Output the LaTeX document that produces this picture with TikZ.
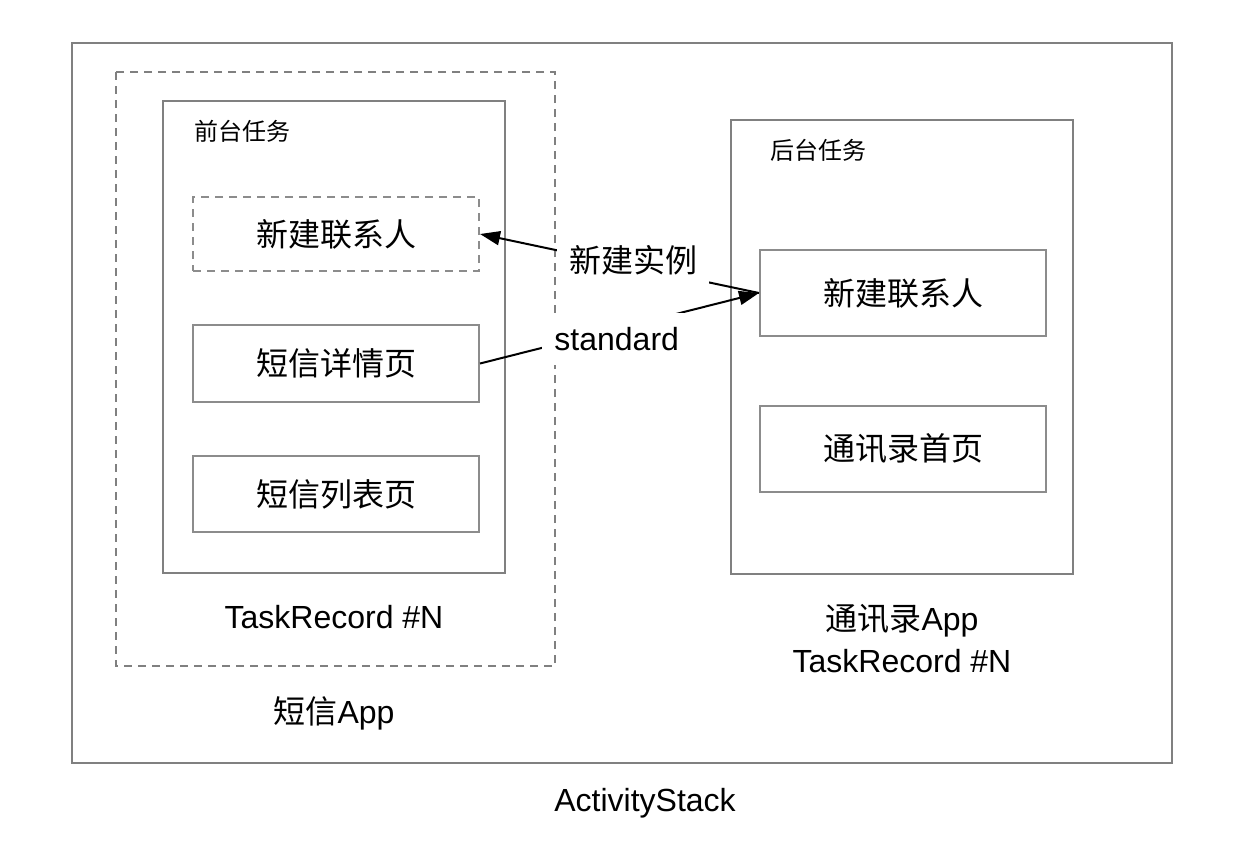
\documentclass[tikz,border=0pt]{standalone}
\usepackage{fontspec}
\setmainfont{Liberation Sans}
\newfontfamily\cjk{Noto Sans CJK SC}
\usetikzlibrary{arrows.meta}
\definecolor{boxgray}{HTML}{808080}
\definecolor{innergray}{HTML}{8C8C8C}
\begin{document}
\begin{tikzpicture}[x=0.5pt,y=-0.5pt,
  frame/.style={draw=boxgray,line width=1pt},
  dframe/.style={draw=boxgray,line width=1pt,dash pattern=on 4pt off 3pt},
  actbox/.style={draw=innergray,line width=1pt,minimum width=143pt,anchor=north west,inner sep=0pt,font=\cjk\fontsize{16pt}{19pt}\selectfont},
  dactbox/.style={actbox,dash pattern=on 4pt off 3pt},
  big/.style={font=\fontsize{16pt}{21pt}\selectfont,inner sep=0pt,align=center},
  small/.style={font=\cjk\fontsize{12pt}{14pt}\selectfont,inner sep=0pt},
  edgelabel/.style={fill=white,inner xsep=6pt,inner ysep=7pt,font=\fontsize{16pt}{19pt}\selectfont},
  conn/.style={draw=black,line width=1pt,-{Triangle[length=10pt,width=7pt]}}
]
\useasboundingbox (0,0) rectangle (1248,858);
\fill[white] (0,0) rectangle (1248,858);
% outer frames
\draw[frame] (72,43) rectangle (1172,763);
\draw[dframe] (116,72) rectangle (555,666);
\draw[frame] (163,101) rectangle (505,573);
\draw[frame] (731,120) rectangle (1073,574);
% small labels
\node[small] (fg) at (242,131) {前台任务};
\node[small] (bg) at (818,150) {后台任务};
% left activities
\node[dactbox,minimum height=37pt] (lnew) at (192,196) {新建联系人};
\node[actbox,minimum height=38.5pt] (detail) at (192,324) {短信详情页};
\node[actbox,minimum height=38pt] (list) at (192,455) {短信列表页};
% right activities
\node[actbox,minimum height=43pt] (rnew) at (759,249) {新建联系人};
\node[actbox,minimum height=43pt] (home) at (759,405) {通讯录首页};
% texts
\node[big] (trl) at (334,617) {TaskRecord \#N};
\node[big] (smsapp) at (334,713) {{\cjk 短信}App};
\node[big] (trr) at (902,639) {{\cjk 通讯录}App\\TaskRecord \#N};
\node[big] (stack) at (645,803) {ActivityStack};
% connectors
\draw[conn] (rnew.west) -- node[edgelabel,pos=0.45,yshift=3pt] {\cjk 新建实例} (lnew.east);
\draw[conn] (detail.east) -- node[edgelabel,pos=0.49,yshift=-5pt] {standard} (rnew.west);
\end{tikzpicture}
\end{document}
